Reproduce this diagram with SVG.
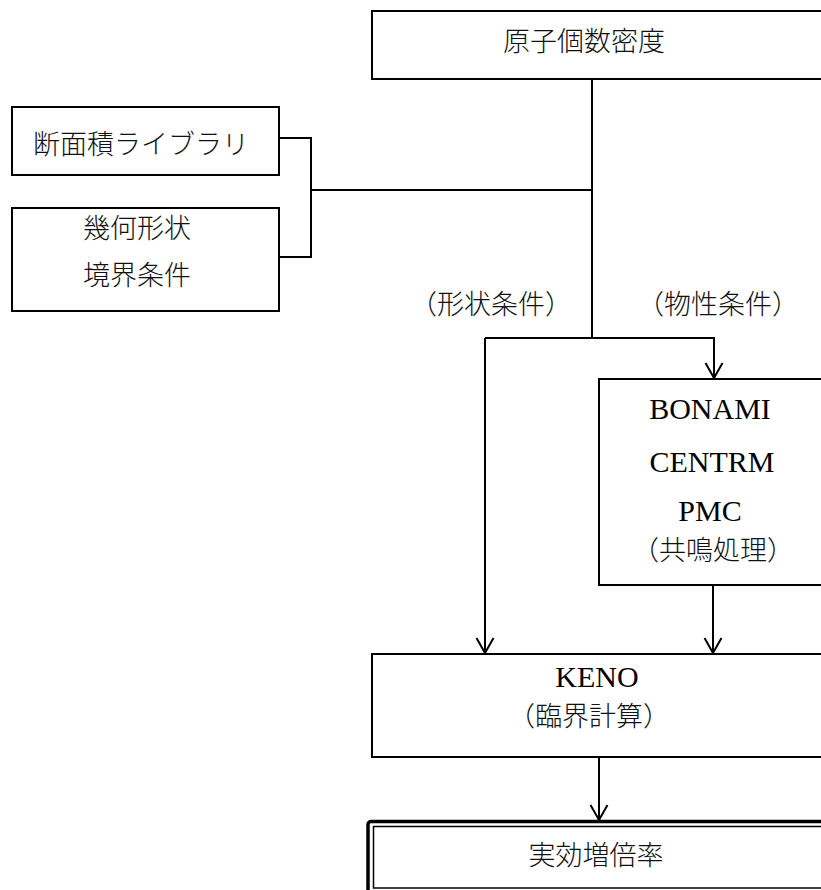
<svg xmlns="http://www.w3.org/2000/svg" width="821" height="890" viewBox="0 0 821 890">
<style>
.box{fill:#fff;stroke:#000;stroke-width:2}
.ln{fill:none;stroke:#000;stroke-width:2}
.jp{font-family:"Liberation Serif","Noto Sans CJK JP",serif;font-size:27px;fill:#111;text-anchor:middle;font-weight:300}
.en{font-family:"Liberation Serif","Noto Sans CJK JP",serif;font-size:30px;fill:#000;text-anchor:middle}
</style>
<defs>
<marker id="arr" markerUnits="userSpaceOnUse" viewBox="-18 -10 20 20" markerWidth="20" markerHeight="20" refX="0" refY="0" orient="auto" overflow="visible">
<path d="M -15 -8.5 L 0 0 L -15 8.5" fill="none" stroke="#000" stroke-width="2"/>
</marker>
</defs>
<rect width="821" height="890" fill="#fff"/>
<g id="connectors">
<path class="ln" d="M592 79 V338"/>
<path class="ln" d="M279 138 H311 V257 H279"/>
<path class="ln" d="M311 190 H592"/>
<path class="ln" d="M485 338 H714 V378" marker-end="url(#arr)"/>
<path class="ln" d="M485 338 V653" marker-end="url(#arr)"/>
<path class="ln" d="M713 585 V653" marker-end="url(#arr)"/>
<path class="ln" d="M599 757 V820" marker-end="url(#arr)"/>
</g>
<g id="node-atom">
<rect class="box" x="372" y="11" width="470" height="68"/>
<text class="jp" x="584" y="51" font-size="28">原子個数密度</text>
</g>
<g id="node-library">
<rect class="box" x="12" y="107" width="267" height="68"/>
<text class="jp" x="141" y="154">断面積ライブラリ</text>
</g>
<g id="node-geometry">
<rect class="box" x="12" y="208" width="267" height="103"/>
<text class="jp" x="137" y="238">幾何形状</text>
<text class="jp" x="137" y="285">境界条件</text>
</g>
<g id="label-shape">
<text class="jp" x="491" y="314" font-size="26">（形状条件）</text>
</g>
<g id="label-material">
<text class="jp" x="718" y="314" font-size="26">（物性条件）</text>
</g>
<g id="node-bonami">
<rect class="box" x="599" y="379" width="240" height="206"/>
<text class="en" x="710" y="419">BONAMI</text>
<text class="en" x="712" y="472">CENTRM</text>
<text class="en" x="710" y="521">PMC</text>
<text class="jp" x="713" y="560" font-size="26">（共鳴処理）</text>
</g>
<g id="node-keno">
<rect class="box" x="372" y="654" width="470" height="103"/>
<text class="en" x="597" y="687">KENO</text>
<text class="jp" x="589" y="726" font-size="26">（臨界計算）</text>
</g>
<g id="node-keff">
<rect x="368" y="821.5" width="480" height="90" rx="3" fill="#fff" stroke="#000" stroke-width="3.5"/>
<rect x="373.5" y="826.5" width="470" height="61.5" fill="none" stroke="#000" stroke-width="1.5"/>
<text class="jp" x="596" y="865" font-size="28">実効増倍率</text>
</g>
</svg>
